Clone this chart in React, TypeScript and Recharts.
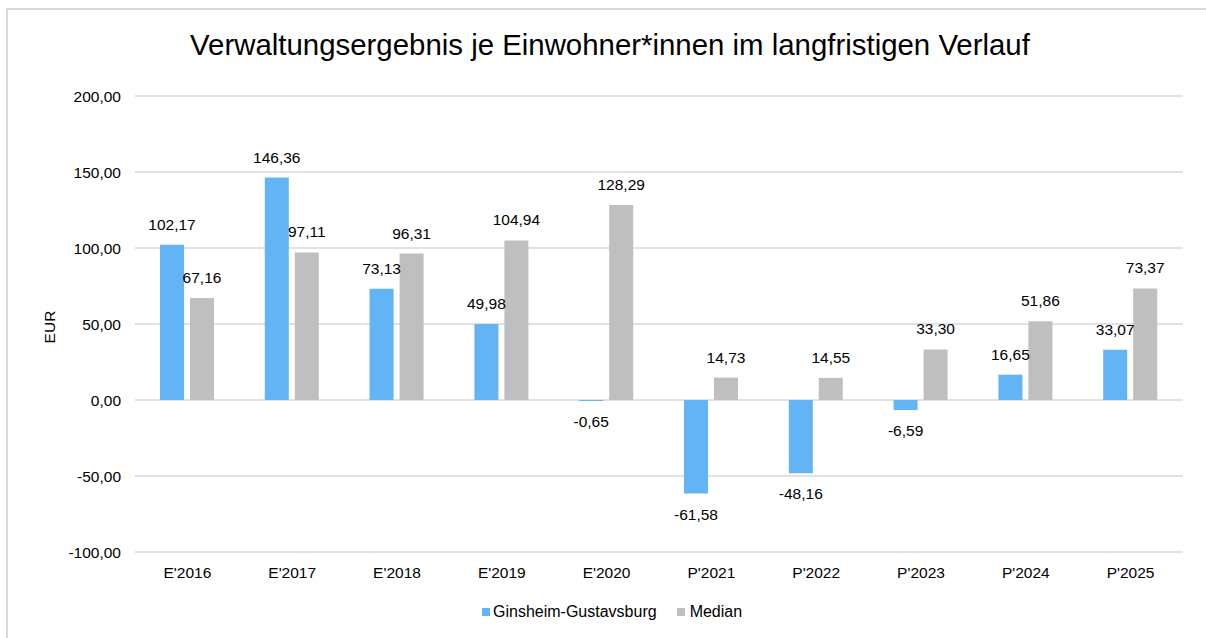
import { BarChart, Bar, XAxis, YAxis, CartesianGrid, LabelList } from 'recharts';

const categories = ["E'2016", "E'2017", "E'2018", "E'2019", "E'2020", "P'2021", "P'2022", "P'2023", "P'2024", "P'2025"];
const ginsheim = [102.17, 146.36, 73.13, 49.98, -0.65, -61.58, -48.16, -6.59, 16.65, 33.07];
const median = [67.16, 97.11, 96.31, 104.94, 128.29, 14.73, 14.55, 33.3, 51.86, 73.37];
const yTicks = [-100, -50, 0, 50, 100, 150, 200];

const data = categories.map((name, i) => ({ name, ginsheim: ginsheim[i], median: median[i] }));

const FONT = '"Liberation Sans", Arial, sans-serif';
const BLUE = '#63b4f5';
const GRAY = '#bfbfbf';
const EDGE = '#d9d9d9';

const fmt = (v: number) => v.toFixed(2).replace('.', ',');

function ValueLabel(props: any) {
  const { x, y, width, height, value } = props;
  const top = Math.min(y, y + height);
  const bottom = Math.max(y, y + height);
  const cx = x + width / 2;
  const ty = value >= 0 ? top - 15 : bottom + 26;
  return (
    <text x={cx} y={ty} textAnchor="middle" fontSize={15.5} fontFamily={FONT} fill="#000">
      {fmt(value)}
    </text>
  );
}

export default function App() {
  return (
    <div
      style={{
        position: 'relative',
        width: 1190,
        height: 620,
        marginTop: 2,
        fontFamily: FONT,
        background: '#fff',
      }}
    >
      {/* frame of the cropped screenshot: top and left edges only */}
      <div style={{ position: 'fixed', left: 6, top: 8, width: 1200, height: 2, background: EDGE }} />
      <div style={{ position: 'fixed', left: 6, top: 8, width: 2, height: 630, background: EDGE }} />
      <div
        style={{
          position: 'absolute',
          top: 18,
          left: 7,
          width: '100%',
          textAlign: 'center',
          fontSize: 29.4,
          color: '#000',
        }}
      >
        Verwaltungsergebnis je Einwohner*innen im langfristigen Verlauf
      </div>
      <div
        style={{
          position: 'absolute',
          left: 12,
          top: 308,
          width: 60,
          textAlign: 'center',
          fontSize: 15.5,
          transform: 'rotate(-90deg)',
        }}
      >
        EUR
      </div>
      <BarChart
        width={1190}
        height={620}
        data={data}
        margin={{ top: 86, right: 15, bottom: 48, left: 67 }}
        barSize={24}
        barGap={6}
      >
        <CartesianGrid vertical={false} stroke={EDGE} strokeWidth={1.5} />
        <XAxis
          dataKey="name"
          axisLine={false}
          tickLine={false}
          tickMargin={9}
          height={30}
          interval={0}
          tick={{ fontSize: 15.5, fontFamily: FONT, fill: '#000' }}
        />
        <YAxis
          domain={[-100, 200]}
          ticks={yTicks}
          axisLine={false}
          tickLine={false}
          tickMargin={8}
          width={60}
          tickFormatter={fmt}
          tick={{ fontSize: 15.5, fontFamily: FONT, fill: '#000' }}
        />
        <Bar dataKey="ginsheim" fill={BLUE} isAnimationActive={false}>
          <LabelList dataKey="ginsheim" content={<ValueLabel />} />
        </Bar>
        <Bar dataKey="median" fill={GRAY} isAnimationActive={false}>
          <LabelList dataKey="median" content={<ValueLabel />} />
        </Bar>
      </BarChart>
      <div
        style={{
          position: 'absolute',
          top: 593,
          left: 474,
          display: 'flex',
          alignItems: 'center',
          fontSize: 16,
          color: '#000',
        }}
      >
        <span style={{ width: 8, height: 8, background: BLUE, display: 'inline-block', marginRight: 3 }} />
        <span>Ginsheim-Gustavsburg</span>
        <span style={{ width: 8, height: 8, background: GRAY, display: 'inline-block', marginLeft: 20, marginRight: 5 }} />
        <span>Median</span>
      </div>
    </div>
  );
}
